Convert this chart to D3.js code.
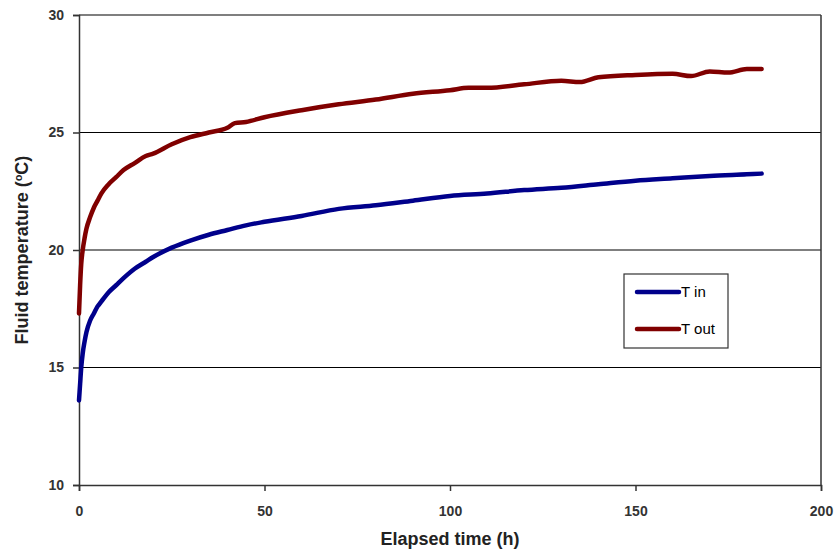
<!DOCTYPE html>
<html>
<head>
<meta charset="utf-8">
<script src="https://cdn.jsdelivr.net/npm/d3@7"></script>
<style>
  body { margin: 0; background: #fff; }
  svg { font-family: "Liberation Sans", Arial, sans-serif; }
</style>
</head>
<body>
<div id="chart"></div>
<script>
'use strict';
// elapsed time (h)
var timeIn = [0, 0.3, 0.6, 1, 1.5, 2, 3, 4, 5, 6, 8, 10, 12, 15, 18, 20, 25, 30, 35, 40, 45, 50, 60, 70, 80, 90, 100, 110, 120, 130, 140, 150, 160, 170, 180, 184];
var tIn = [13.6, 14.3, 15.0, 15.6, 16.1, 16.5, 17.0, 17.3, 17.6, 17.8, 18.2, 18.5, 18.8, 19.2, 19.5, 19.7, 20.1, 20.4, 20.65, 20.85, 21.05, 21.2, 21.45, 21.75, 21.9, 22.1, 22.3, 22.4, 22.55, 22.65, 22.8, 22.95, 23.05, 23.15, 23.22, 23.25];
var timeOut = [0, 0.3, 0.6, 1, 1.5, 2, 3, 4, 5, 6, 8, 10, 12, 15, 18, 20, 25, 30, 35, 40, 42, 45, 50, 60, 70, 80, 90, 100, 105, 110, 120, 130, 135, 140, 150, 160, 165, 170, 175, 180, 184];
var tOut = [17.3, 18.5, 19.4, 20.0, 20.5, 20.9, 21.4, 21.8, 22.1, 22.4, 22.8, 23.1, 23.4, 23.7, 24.0, 24.1, 24.5, 24.8, 25.0, 25.2, 25.4, 25.45, 25.65, 25.95, 26.2, 26.4, 26.65, 26.8, 26.9, 26.9, 27.05, 27.2, 27.15, 27.35, 27.45, 27.5, 27.4, 27.6, 27.55, 27.7, 27.7];
var xTicks = [0, 50, 100, 150, 200];
var yTicks = [10, 15, 20, 25, 30];
var seriesNames = ['T in', 'T out'];
var seriesColors = ['#00008b', '#800000'];

var width = 837, height = 554;
var margin = {top: 15, right: 16, bottom: 69, left: 79};
var w = width - margin.left - margin.right,
    h = height - margin.top - margin.bottom;

var svg = d3.select('#chart').append('svg')
  .attr('width', width)
  .attr('height', height);
var g = svg.append('g')
  .attr('transform', 'translate(' + margin.left + ',' + margin.top + ')');

var x = d3.scaleLinear().domain([0, 200]).range([0, w]);
var y = d3.scaleLinear().domain([10, 30]).range([h, 0]);

// gridlines
g.selectAll('.grid')
  .data(yTicks.slice(1))
  .enter().append('line')
  .attr('x1', 0).attr('x2', w)
  .attr('y1', function(d) { return y(d); })
  .attr('y2', function(d) { return y(d); })
  .style('stroke', '#000').style('stroke-width', 1.2);

// right border
g.append('line')
  .attr('x1', w).attr('x2', w).attr('y1', 0).attr('y2', h)
  .style('stroke', '#333').style('stroke-width', 1.5);

// axes
var xAxis = g.append('g')
  .attr('transform', 'translate(0,' + h + ')')
  .call(d3.axisBottom(x).tickValues(xTicks).tickSizeOuter(0).tickSize(6).tickPadding(15));
var yAxis = g.append('g')
  .call(d3.axisLeft(y).tickValues(yTicks).tickSizeOuter(0).tickSize(6).tickPadding(9));

[xAxis, yAxis].forEach(function(a) {
  a.select('.domain').style('stroke', '#333').style('stroke-width', 1.5);
  a.selectAll('.tick line').style('stroke', '#333').style('stroke-width', 1.5);
  a.selectAll('.tick text')
    .style('font-size', '14px')
    .style('font-weight', 'bold')
    .style('fill', '#333');
});

// lines
var line = d3.line()
  .x(function(d) { return x(d[0]); })
  .y(function(d) { return y(d[1]); })
  .curve(d3.curveMonotoneX);

var dataIn = timeIn.map(function(t, i) { return [t, tIn[i]]; });
var dataOut = timeOut.map(function(t, i) { return [t, tOut[i]]; });

[dataIn, dataOut].forEach(function(d, i) {
  g.append('path')
    .datum(d)
    .attr('d', line)
    .style('fill', 'none')
    .style('stroke', seriesColors[i])
    .style('stroke-width', 4.5)
    .style('stroke-linejoin', 'round')
    .style('stroke-linecap', 'round');
});

// legend
var legend = svg.append('g').attr('transform', 'translate(624,274)');
legend.append('rect')
  .attr('width', 104).attr('height', 74)
  .style('fill', '#fff').style('stroke', '#333').style('stroke-width', 1.2);
seriesNames.forEach(function(name, i) {
  var ly = 18 + i * 37;
  legend.append('line')
    .attr('x1', 13).attr('x2', 55).attr('y1', ly).attr('y2', ly)
    .style('stroke', seriesColors[i]).style('stroke-width', 4.5)
    .style('stroke-linecap', 'round');
  legend.append('text')
    .attr('x', 57).attr('y', ly + 5)
    .text(name)
    .style('font-size', '15px')
    .style('fill', '#000');
});

// axis titles
svg.append('text')
  .attr('x', margin.left + w / 2).attr('y', 545)
  .attr('text-anchor', 'middle')
  .text('Elapsed time (h)')
  .style('font-size', '18px').style('font-weight', 'bold').style('fill', '#222');

var yt = svg.append('text')
  .attr('transform', 'translate(28,' + (margin.top + h / 2) + ') rotate(-90)')
  .attr('text-anchor', 'middle')
  .style('font-size', '18px').style('font-weight', 'bold').style('fill', '#222');
yt.append('tspan').text('Fluid temperature (');
yt.append('tspan').text('o').attr('dy', -6).style('font-size', '11px');
yt.append('tspan').text('C)').attr('dy', 6);
</script>
</body>
</html>
